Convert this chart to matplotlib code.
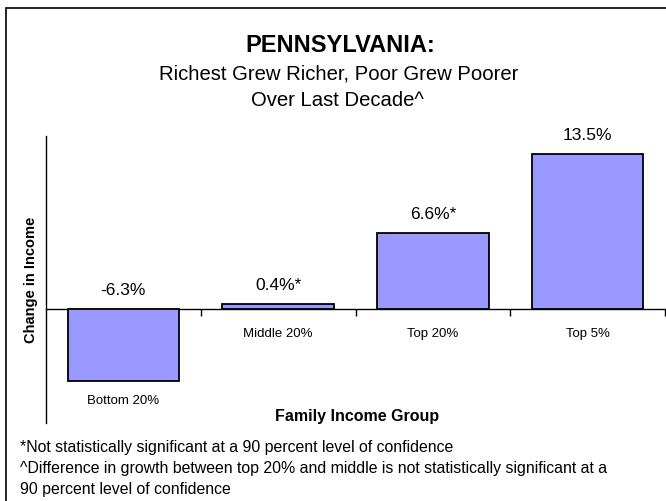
import matplotlib
matplotlib.use("Agg")
import matplotlib.pyplot as plt
from matplotlib.patches import Rectangle

categories = ["Bottom 20%", "Middle 20%", "Top 20%", "Top 5%"]
values = [-6.3, 0.4, 6.6, 13.5]
value_labels = ["-6.3%", "0.4%*", "6.6%*", "13.5%"]
footnotes = [
    "*Not statistically significant at a 90 percent level of confidence",
    "^Difference in growth between top 20% and middle is not statistically significant at a",
    "90 percent level of confidence",
]

SANS = ["Liberation Sans", "DejaVu Sans"]

fig = plt.figure(figsize=(6.66, 5.02), dpi=100)
W, H = 666, 502
ax = fig.add_axes([46 / W, 1 - 424 / H, (665 - 46) / W, (424 - 137) / H])

x = list(range(len(categories)))
ax.bar(x, values, width=0.72, color="#9999FF", edgecolor="black", linewidth=1.3, zorder=3)
ax.set_xlim(-0.5, 3.5)
ax.set_ylim(-9.93, 15.07)

ax.spines["top"].set_visible(False)
ax.spines["right"].set_visible(False)
ax.spines["bottom"].set_position(("data", 0))
ax.spines["bottom"].set_linewidth(1.0)
ax.spines["left"].set_linewidth(1.0)
ax.set_yticks([])
ax.set_xticks([0.5, 1.5, 2.5, 3.5])
ax.set_xticklabels([])
ax.tick_params(axis="x", direction="out", length=5, width=1)

for xi, v, lab, cat in zip(x, values, value_labels, categories):
    top = max(v, 0)
    ax.annotate(lab, (xi, top), xytext=(0, 9), textcoords="offset points",
                ha="center", va="bottom", fontsize=12.5, family=SANS)
    if v < 0:
        ax.annotate(cat, (xi, v), xytext=(0, -13.5), textcoords="offset points",
                    ha="center", va="center", fontsize=9.5, family=SANS)
    else:
        ax.annotate(cat, (xi, 0), xytext=(0, -17), textcoords="offset points",
                    ha="center", va="center", fontsize=9.5, family=SANS)

fig.text(340 / W, 1 - 46 / H, "PENNSYLVANIA:", ha="center", va="center",
         fontsize=17, fontweight="bold", family=SANS)
fig.text(339 / W, 1 - 74 / H, "Richest Grew Richer, Poor Grew Poorer", ha="center",
         va="center", fontsize=14.6, family=SANS)
fig.text(337 / W, 1 - 101 / H, "Over Last Decade^", ha="center", va="center",
         fontsize=14.6, family=SANS)

fig.text(31 / W, 1 - 280 / H, "Change in Income", rotation=90, ha="center", va="center",
         fontsize=10.5, fontweight="bold", family=SANS)
fig.text(357 / W, 1 - 416 / H, "Family Income Group", ha="center", va="center",
         fontsize=11.5, fontweight="bold", family=SANS)

for i, t in enumerate(footnotes):
    fig.text(20 / W, 1 - (448 + i * 21) / H, t, ha="left", va="center",
             fontsize=11.4, family=SANS)

fig.patches.append(Rectangle((6 / W, -0.05), 1.0, 1 - 9 / H + 0.05, transform=fig.transFigure,
                             fill=False, edgecolor="black", linewidth=1.2))

fig.savefig("out.png", dpi=100)
